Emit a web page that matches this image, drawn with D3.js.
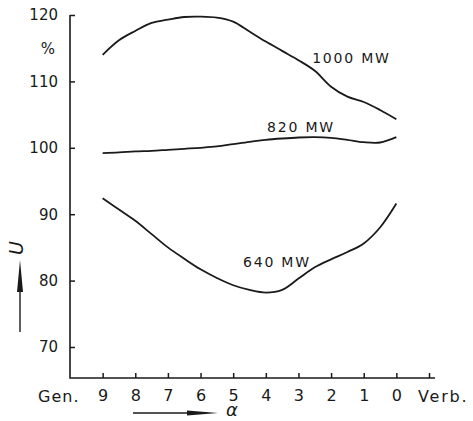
<!DOCTYPE html>
<html>
<head>
<meta charset="utf-8">
<script src="https://cdn.jsdelivr.net/npm/d3@7"></script>
<style>
  body { margin: 0; background: #fff; }
  svg { display: block; }
  text { font-family: "DejaVu Sans", sans-serif; fill: #1a1a1a; }
</style>
</head>
<body>
<script>
// alpha positions (9 = Gen. side, 0 = Verb. side)
const alpha = [9, 8.5, 8, 7.5, 7, 6.5, 6, 5.5, 5, 4.5, 4, 3.5, 3, 2.5, 2, 1.5, 1, 0.5, 0];

// U in % for each load
const u1000 = [114.0, 116.2, 117.6, 118.8, 119.3, 119.7, 119.75, 119.6, 119.0, 117.5, 116.0, 114.6, 113.2, 111.6, 109.2, 107.7, 106.9, 105.7, 104.3];
const u820  = [99.2, 99.3, 99.45, 99.55, 99.7, 99.85, 100.0, 100.2, 100.55, 100.9, 101.2, 101.4, 101.55, 101.6, 101.5, 101.2, 100.85, 100.8, 101.6];
const u640  = [92.4, 90.7, 89.0, 87.0, 85.0, 83.3, 81.7, 80.4, 79.3, 78.6, 78.2, 78.6, 80.3, 82.0, 83.2, 84.3, 85.6, 88.0, 91.6];

const series = [
  { name: "1000 MW", values: u1000, labelAt: [2.58, 112.8] },
  { name: "820 MW",  values: u820,  labelAt: [3.96, 102.4] },
  { name: "640 MW",  values: u640,  labelAt: [4.7, 82.05] }
];

const yTicks = [120, 110, 100, 90, 80, 70];
const xTicks = [9, 8, 7, 6, 5, 4, 3, 2, 1, 0];

const width = 473, height = 421;
const ink = "#1a1a1a";

const x = d3.scaleLinear().domain([10, -1]).range([70, 429]);
const y = d3.scaleLinear().domain([65.33, 120]).range([378, 15]);

const svg = d3.select("body").append("svg")
    .attr("width", width)
    .attr("height", height);

// y axis
const yAxis = svg.append("g")
    .attr("transform", `translate(${x(10)},0)`)
    .call(d3.axisLeft(y).tickValues(yTicks).tickSize(-5).tickSizeOuter(0).tickPadding(12));
yAxis.select(".domain").remove();
yAxis.selectAll("line").attr("stroke", ink).attr("stroke-width", 1.5);
yAxis.selectAll("text")
    .style("font-size", "15px")
    .style("font-family", "DejaVu Sans")
    .attr("fill", ink);

// x axis
const xAxis = svg.append("g")
    .attr("transform", `translate(0,${y(65.33)})`)
    .call(d3.axisBottom(x).tickValues(xTicks.concat([-1])).tickSize(-5).tickSizeOuter(0).tickPadding(12)
        .tickFormat(d => d < 0 ? "" : d));
xAxis.select(".domain").remove();
xAxis.selectAll("line").attr("stroke", ink).attr("stroke-width", 1.5);
xAxis.selectAll("text")
    .style("font-size", "16px")
    .style("font-family", "DejaVu Sans")
    .attr("fill", ink);

// axis lines
svg.append("path")
    .attr("d", `M${x(10)},${y(120)}V${y(65.33)}H${x(-1) + 6}`)
    .attr("fill", "none")
    .attr("stroke", ink)
    .attr("stroke-width", 1.6);

svg.append("text")
    .attr("x", x(10) - 32).attr("y", y(65.33) + 24)
    .style("font-size", "16px").style("letter-spacing", "1px")
    .text("Gen.");
svg.append("text")
    .attr("x", x(-1) - 11).attr("y", y(65.33) + 24)
    .style("font-size", "16px").style("letter-spacing", "1.8px")
    .text("Verb.");

// % unit
svg.append("text")
    .attr("x", 48).attr("y", 54)
    .attr("text-anchor", "middle")
    .style("font-size", "15px")
    .text("%");

// curves
const line = d3.line()
    .x((d, i) => x(alpha[i]))
    .y(d => y(d))
    .curve(d3.curveCatmullRom.alpha(0.5));

svg.append("g")
    .selectAll("path")
    .data(series)
    .join("path")
    .attr("d", d => line(d.values))
    .attr("fill", "none")
    .attr("stroke", ink)
    .attr("stroke-width", 1.8);

svg.append("g")
    .selectAll("text")
    .data(series)
    .join("text")
    .attr("x", d => x(d.labelAt[0]))
    .attr("y", d => y(d.labelAt[1]))
    .style("font-size", "14px")
    .style("letter-spacing", "1.8px")
    .text(d => d.name);

// U with arrow
svg.append("text")
    .attr("transform", "translate(23,248) rotate(-90)")
    .attr("text-anchor", "middle")
    .style("font-size", "19px")
    .style("font-style", "italic")
    .text("U");
svg.append("line")
    .attr("x1", 20).attr("y1", 332).attr("x2", 20).attr("y2", 280)
    .attr("stroke", ink).attr("stroke-width", 1.4);
svg.append("path")
    .attr("d", "M20,260 L23,292 L17,292 Z")
    .attr("fill", ink);

// alpha with arrow
svg.append("line")
    .attr("x1", 133).attr("y1", 413).attr("x2", 195).attr("y2", 413)
    .attr("stroke", ink).attr("stroke-width", 1.4);
svg.append("path")
    .attr("d", "M218,413 L187,410.5 L187,415.5 Z")
    .attr("fill", ink);
svg.append("text")
    .attr("x", 226).attr("y", 416)
    .style("font-size", "18px")
    .style("font-style", "italic")
    .text("α");
</script>
</body>
</html>
